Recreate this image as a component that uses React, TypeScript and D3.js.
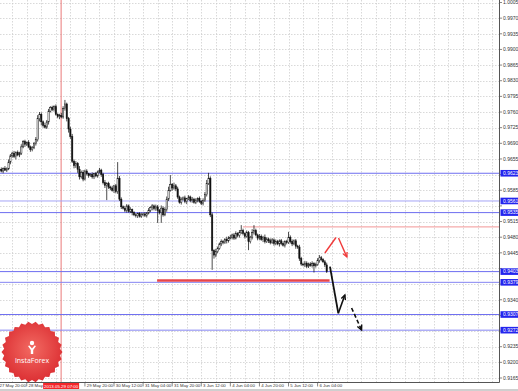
import React from "react";
import * as d3 from "d3";

// ---- data (prices in pips, 4-digit: 9630 = 0.9630), H1 candles from 27 May 21:00
const firstOpen = 9630;
const closes = [
  9632, 9628, 9634, 9630, 9633, 9648, 9662, 9668, 9660, 9670,
  9664, 9668, 9682, 9694, 9688, 9692, 9682, 9676, 9680, 9690,
  9698, 9745, 9755, 9738, 9730, 9726, 9738, 9762, 9770, 9766,
  9772, 9755, 9750, 9752, 9749, 9768, 9778, 9745, 9722, 9705,
  9650, 9640, 9645, 9632, 9615, 9625, 9610, 9628, 9622, 9618,
  9620, 9615, 9622, 9617, 9626, 9630, 9620, 9602, 9596, 9600,
  9592, 9590, 9585, 9595, 9582, 9612, 9565, 9548, 9545, 9540,
  9550, 9538, 9542, 9535, 9530, 9528, 9533, 9527, 9530, 9532,
  9529, 9534, 9540, 9546, 9550, 9544, 9548, 9540, 9535, 9545,
  9530, 9542, 9565, 9585, 9598, 9590, 9595, 9588, 9570, 9558,
  9565, 9568, 9560, 9566, 9570, 9562, 9565, 9558, 9563, 9567,
  9560, 9556, 9562, 9575, 9600, 9612, 9530, 9450, 9440, 9448,
  9455, 9465, 9470, 9468, 9475, 9472, 9478, 9480, 9485, 9478,
  9488, 9484, 9490, 9495, 9488, 9482, 9490, 9470, 9480, 9490,
  9495, 9485, 9478, 9482, 9475, 9480, 9470, 9476, 9472, 9468,
  9474, 9466, 9470, 9465, 9472, 9466, 9462, 9470, 9468, 9480,
  9470, 9465, 9472, 9460, 9458, 9432, 9420, 9418, 9422, 9415,
  9420, 9417, 9421, 9416, 9419, 9428, 9434, 9430, 9425, 9418,
  9403,
];
const upWick = [
  3, 4, 2, 5, 3, 6, 4, 3, 5, 2,
  4, 3, 6, 3, 4, 2, 5, 3, 4, 3,
  6, 8, 5, 4, 3, 6, 4, 5, 3, 4,
  3, 5, 2, 4, 6, 5, 9, 3, 4, 5,
  6, 4, 5, 3, 7, 4, 5, 3, 4, 2,
  3, 5, 2, 4, 3, 5, 3, 4, 6, 3,
  4, 3, 5, 2, 4, 36, 5, 4, 3, 5,
  4, 3, 5, 2, 3, 4, 2, 3, 5, 3,
  4, 2, 5, 3, 4, 3, 5, 4, 3, 6,
  4, 5, 6, 8, 21, 3, 7, 4, 5, 3,
  4, 3, 5, 2, 4, 3, 5, 3, 4, 2,
  4, 3, 5, 6, 8, 12, 4, 5, 3, 6,
  4, 3, 5, 4, 3, 6, 4, 5, 3, 4,
  5, 3, 6, 12, 4, 3, 5, 4, 3, 8,
  12, 4, 3, 5, 4, 3, 6, 4, 3, 5,
  4, 3, 5, 4, 3, 4, 5, 3, 4, 12,
  4, 5, 3, 4, 3, 5, 4, 3, 5, 4,
  3, 4, 5, 3, 4, 5, 6, 4, 3, 4,
  5,
];
const dnWick = [
  4, 3, 5, 2, 4, 3, 5, 4, 3, 6,
  3, 5, 4, 3, 6, 4, 3, 5, 4, 3,
  5, 4, 6, 8, 5, 3, 4, 6, 3, 4,
  5, 3, 4, 6, 3, 4, 5, 6, 8, 5,
  4, 6, 5, 8, 6, 4, 5, 3, 4, 5,
  3, 4, 5, 3, 4, 3, 5, 4, 6, 33,
  4, 5, 3, 6, 4, 5, 4, 5, 3, 4,
  5, 3, 4, 6, 3, 4, 5, 3, 4, 3,
  4, 5, 3, 4, 6, 4, 5, 28, 4, 23,
  4, 3, 5, 4, 3, 6, 4, 5, 4, 3,
  5, 3, 4, 6, 3, 4, 5, 3, 4, 5,
  3, 4, 5, 3, 4, 3, 5, 43, 8, 5,
  4, 3, 5, 4, 3, 6, 4, 3, 5, 4,
  3, 4, 5, 3, 4, 5, 3, 19, 4, 5,
  4, 3, 5, 4, 3, 6, 4, 3, 5, 4,
  3, 5, 4, 3, 6, 4, 3, 5, 4, 3,
  4, 5, 3, 6, 4, 5, 4, 3, 5, 4,
  4, 3, 5, 15, 4, 3, 5, 4, 3, 5,
  3,
];

const priceTicks = [
  "1.0005", "0.9970", "0.9935", "0.9900", "0.9865", "0.9830", "0.9795", "0.9760",
  "0.9725", "0.9690", "0.9655", "0.9620", "0.9585", "0.9550", "0.9515", "0.9480",
  "0.9445", "0.9410", "0.9375", "0.9340", "0.9305", "0.9270", "0.9235", "0.9200", "0.9165",
];
const timeLabels = [
  "27 May 20:00", "28 May 12:00", "29 May 04:00", "29 May 20:00", "30 May 12:00", "31 May 04:00",
  "31 May 20:00", "3 Jun 12:00", "4 Jun 04:00", "4 Jun 20:00", "5 Jun 12:00", "6 Jun 04:00",
];
const timeLabelIdx = [-1, 15, 31, 47, 63, 79, 95, 111, 127, 143, 159, 175];
const gridIdx = [-1, 7, 15, 23, 31, 39, 47, 55, 63, 71, 79, 87, 95, 103, 111, 119, 127, 135, 143, 151, 159, 167, 175, 183, 191, 199, 207, 215, 223, 231, 239, 247, 255, 263, 271, 279, 287];

const levelPrices = [0.9623, 0.9561, 0.9535, 0.9403, 0.9379, 0.9307, 0.9272];
const levelLabels = ["0.9623", "0.9561", "0.9535", "0.9403", "0.9379", "0.9307", "0.9272"];
const levelColors = ["#6e6ef0", "#a4a4f6", "#6e6ef0", "#6e6ef0", "#8585f2", "#6e6ef0", "#8585f2"];

const markerIdx = 33.9;
const markerLabel = "2013.05.29 07:00";
const supportPrice = 0.9383;
const supportFrom = 86.7;
const supportTo = 181.6;
const resistPrice = 0.9503;
const resistFrom = 133.9;

// annotation arrows in (candle index, price)
const redUp: [number, number][] = [[179.0, 0.94446], [185.1, 0.94793]];
const redDown: [number, number][] = [[186.5, 0.94782], [191.1, 0.94357]];
const blackDown: [number, number][] = [[181.8, 0.9414], [186.4, 0.93097]];
const blackUp: [number, number][] = [[186.4, 0.93097], [190.0, 0.93507]];
const blackDash: [number, number][] = [[193.7, 0.93216], [199.2, 0.92724]];

const W = 518, H = 391;
const PR = 499.5, PB = 382.5;

export default function App() {
  const x = d3.scaleLinear().domain([34, 175]).range([61.3, 317.6]);
  const y = d3.scaleLinear().domain([0.9165, 1.0005]).range([378, 2.5]);
  const P = (v: number) => v / 10000;

  const candles = closes.map((c, i) => {
    const o = i === 0 ? firstOpen : closes[i - 1];
    const h = Math.max(o, c) + upWick[i];
    const l = Math.min(o, c) - dnWick[i];
    return { i, o: P(o), c: P(c), h: P(h), l: P(l) };
  });

  const seg = (pts: [number, number][]) => pts.map(([a, b]) => [x(a), y(b)] as [number, number]);
  const head = (pts: [number, number][], len = 6) => {
    const [p0, p1] = seg(pts);
    const ang = Math.atan2(p1[1] - p0[1], p1[0] - p0[0]);
    const a1 = ang + Math.PI - 0.45, a2 = ang + Math.PI + 0.45;
    return `M${p1[0] + len * Math.cos(a1)},${p1[1] + len * Math.sin(a1)}L${p1[0]},${p1[1]}L${p1[0] + len * Math.cos(a2)},${p1[1] + len * Math.sin(a2)}`;
  };
  const line = d3.line();

  // tick labels hidden behind the highlighted level boxes
  const visibleTicks = priceTicks.filter((t) => levelPrices.every((p) => Math.abs(y(+t) - y(p)) > 5.5));
  const markerX = x(markerIdx);
  const boxL = markerX - 18, boxR = markerX + 18;

  // badge starburst
  const cx = 32, cy = 352, nPts = 26;
  const star = d3.range(nPts * 2).map((k) => {
    const r = k % 2 === 0 ? 30.5 : 28;
    const a = (k / (nPts * 2)) * Math.PI * 2;
    return [cx + r * Math.cos(a), cy + r * Math.sin(a)] as [number, number];
  });

  const font = "'Liberation Sans', Arial, sans-serif";

  return (
    <svg width={W} height={H} style={{ position: "fixed", left: 0, top: 0, background: "#fff" }} fontFamily={font}>
      <defs>
        <clipPath id="plot"><rect x={0} y={0} width={PR} height={PB} /></clipPath>
        <clipPath id="beforeBox"><rect x={0} y={PB} width={boxL} height={10} /></clipPath>
        <radialGradient id="badge" cx="50%" cy="45%" r="55%">
          <stop offset="0%" stopColor="#f26a62" />
          <stop offset="100%" stopColor="#dc2f33" />
        </radialGradient>
      </defs>
      <rect x={0} y={0} width={W} height={H} fill="#fff" />
      <g clipPath="url(#plot)">
        {priceTicks.map((t) => (
          <line key={t} x1={0} x2={PR} y1={Math.round(y(+t)) + 0.5} y2={Math.round(y(+t)) + 0.5} stroke="#c9c9c9" strokeWidth={0.7} strokeDasharray="1.5,1.5" />
        ))}
        {gridIdx.map((g) => (
          <line key={g} x1={Math.round(x(g)) + 0.5} x2={Math.round(x(g)) + 0.5} y1={0} y2={PB} stroke="#c9c9c9" strokeWidth={0.7} strokeDasharray="1.5,1.5" />
        ))}
        <line x1={markerX} x2={markerX} y1={0} y2={PB} stroke="#e86a6a" strokeWidth={0.9} />
        <line x1={x(resistFrom)} x2={PR} y1={y(resistPrice)} y2={y(resistPrice)} stroke="#f08a8a" strokeWidth={0.9} />
        {levelPrices.map((p, k) => (
          <line key={p} x1={0} x2={PR} y1={y(p)} y2={y(p)} stroke={levelColors[k]} strokeWidth={1} />
        ))}
        <line x1={x(supportFrom)} x2={x(supportTo)} y1={y(supportPrice)} y2={y(supportPrice)} stroke="#e8464a" strokeWidth={2.6} />
        {candles.map((d) => {
          const cxp = x(d.i);
          const bull = d.c >= d.o;
          const top = y(Math.max(d.o, d.c));
          const bh = Math.max(0.8, y(Math.min(d.o, d.c)) - top);
          return (
            <g key={d.i}>
              <line x1={cxp} x2={cxp} y1={y(d.h)} y2={y(d.l)} stroke="#111" strokeWidth={0.75} />
              <rect x={cxp - 0.65} y={top} width={1.3} height={bh} fill={bull ? "#fff" : "#111"} stroke="#111" strokeWidth={0.5} />
            </g>
          );
        })}
        {/* red forecast */}
        <path d={line(seg(redUp)) || ""} stroke="#f03a3a" strokeWidth={1.4} fill="none" />
        <path d={line(seg(redDown)) || ""} stroke="#f03a3a" strokeWidth={1.4} fill="none" />
        <path d={head(redDown, 5)} stroke="#f03a3a" strokeWidth={1.3} fill="none" />
        {/* black forecast */}
        <path d={line(seg(blackDown)) || ""} stroke="#111" strokeWidth={1.8} fill="none" />
        <path d={line(seg(blackUp)) || ""} stroke="#111" strokeWidth={1.6} fill="none" />
        <path d={head(blackUp, 5)} stroke="#111" strokeWidth={1.4} fill="none" />
        <path d={line(seg(blackDash)) || ""} stroke="#111" strokeWidth={1.6} fill="none" strokeDasharray="4,2.5" />
        <path d={head(blackDash, 5.5)} stroke="#111" strokeWidth={1.4} fill="none" />
      </g>
      {/* frame */}
      <line x1={PR} x2={PR} y1={0} y2={PB} stroke="#555" strokeWidth={1} />
      <line x1={0} x2={PR} y1={PB} y2={PB} stroke="#555" strokeWidth={1} />
      {/* right axis */}
      {priceTicks.map((t) => (
        <line key={t} x1={PR} x2={PR + 2.5} y1={y(+t)} y2={y(+t)} stroke="#555" strokeWidth={0.7} />
      ))}
      {visibleTicks.map((t) => (
        <text key={t} x={503} y={y(+t)} dy="0.35em" fontSize={5} fill="#333">{t}</text>
      ))}
      {levelPrices.map((p, k) => (
        <g key={p}>
          <rect x={500.5} y={y(p) - 3.3} width={17.5} height={6.6} fill="#2424ee" />
          <text x={503} y={y(p)} dy="0.35em" fontSize={5} fill="#fff">{levelLabels[k]}</text>
        </g>
      ))}
      {/* bottom axis */}
      {timeLabels.map((t, k) => {
        const tx = x(timeLabelIdx[k]);
        const hidden = tx >= boxL - 1 && tx <= boxR;
        const clipped = !hidden && tx < boxL && tx + 28 > boxL;
        return (
          <g key={t}>
            <line x1={tx} x2={tx} y1={PB} y2={PB + 4} stroke="#555" strokeWidth={0.7} />
            {!hidden && (
              <text x={tx + 1.8} y={387} fontSize={4.35} fill="#333" clipPath={clipped ? "url(#beforeBox)" : undefined}>{clipped ? t.split(" ").slice(0, 2).join(" ") : t}</text>
            )}
          </g>
        );
      })}
      <rect x={boxL} y={383} width={36} height={6} fill="#f5262a" />
      <text x={markerX} y={387.8} fontSize={4.4} fill="#fff" textAnchor="middle">{markerLabel}</text>
      <rect x={0} y={389} width={W} height={2} fill="#cfcfcf" />
      {/* badge */}
      <path d={(d3.line().curve(d3.curveLinearClosed)(star)) || ""} fill="url(#badge)" />
      <g fill="#fff">
        <circle cx={cx} cy={cy - 9} r={2.2} />
        <path d={`M${cx - 4},${cy - 6} L${cx - 1.2},${cy - 2} L${cx - 1.2},${cy + 2} L${cx + 1.2},${cy + 2} L${cx + 1.2},${cy - 2} L${cx + 4},${cy - 6} L${cx + 2.6},${cy - 6.6} L${cx},${cy - 3.6} L${cx - 2.6},${cy - 6.6} Z`} />
      </g>
      <text x={cx} y={cy + 11} fontSize={7} fill="#fff" textAnchor="middle" fontFamily="'Open Sans', 'DejaVu Sans', sans-serif">InstaForex</text>
    </svg>
  );
}
